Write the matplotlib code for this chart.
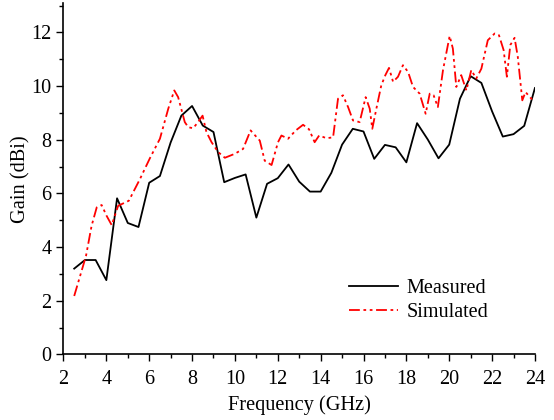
import matplotlib
matplotlib.use("Agg")
import matplotlib.pyplot as plt
from matplotlib.ticker import MultipleLocator

# measured gain, 0.5 GHz steps
freq_meas = [2.5, 3.0, 3.5, 4.0, 4.5, 5.0, 5.5, 6.0, 6.5, 7.0, 7.5, 8.0, 8.5, 9.0,
             9.5, 10.0, 10.5, 11.0, 11.5, 12.0, 12.5, 13.0, 13.5, 14.0, 14.5, 15.0,
             15.5, 16.0, 16.5, 17.0, 17.5, 18.0, 18.5, 19.0, 19.5, 20.0, 20.5, 21.0,
             21.5, 22.0, 22.5, 23.0, 23.5, 24.0]
gain_meas = [3.2, 3.52, 3.52, 2.77, 5.82, 4.9, 4.75, 6.4, 6.65, 7.9, 8.9, 9.26, 8.53, 8.29,
             6.42, 6.58, 6.71, 5.1, 6.36, 6.57, 7.08, 6.44, 6.07, 6.07, 6.77, 7.82,
             8.41, 8.31, 7.29, 7.81, 7.72, 7.16, 8.62, 8.01, 7.31, 7.82, 9.53, 10.37,
             10.12, 9.06, 8.12, 8.21, 8.52, 9.93]

# simulated gain
freq_sim = [2.5, 3.05, 3.31, 3.55, 3.78, 4.01, 4.25, 4.55, 5.05, 5.57, 6.03, 6.5, 6.89,
            7.17, 7.35, 7.66, 7.82, 8.05, 8.28, 8.49, 8.67, 8.91, 9.22, 9.53, 10.0,
            10.38, 10.73, 11.16, 11.39, 11.71, 12.01, 12.17, 12.48, 12.84, 13.18, 13.46,
            13.72, 13.93, 14.27, 14.58, 14.81, 15.04, 15.28, 15.51, 15.82, 16.1, 16.29,
            16.41, 16.6, 16.83, 17.02, 17.19, 17.38, 17.61, 17.84, 18.08, 18.31, 18.62,
            18.9, 19.09, 19.27, 19.47, 19.71, 20.02, 20.17, 20.33, 20.56, 20.8, 21.03,
            21.26, 21.5, 21.8, 22.12, 22.32, 22.54, 22.69, 22.85, 23.05, 23.2, 23.41,
            23.56, 23.9, 24.0]
gain_sim = [2.18, 3.67, 4.79, 5.48, 5.57, 5.17, 4.82, 5.54, 5.73, 6.54, 7.31, 8.04, 9.16,
            9.84, 9.59, 8.66, 8.47, 8.43, 8.66, 8.9, 8.29, 7.91, 7.54, 7.33, 7.48,
            7.66, 8.35, 7.97, 7.22, 7.06, 7.91, 8.16, 8.04, 8.35, 8.56, 8.39,
            7.91, 8.16, 8.06, 8.09, 9.53, 9.66, 9.22, 8.72, 8.66, 9.59, 9.16,
            8.41, 9.16, 10.03, 10.41, 10.68, 10.16, 10.35, 10.78, 10.53, 9.97, 9.72,
            8.97, 9.72, 9.66, 9.22, 10.6, 11.87, 11.4, 9.97, 10.41, 9.84, 10.6,
            10.28, 10.65, 11.71, 11.96, 11.9, 11.34, 10.35, 11.53, 11.8, 11.09, 9.47,
            9.78, 9.47, 9.43]

plt.rcParams['font.family'] = ['Liberation Serif', 'DejaVu Serif']

fig = plt.figure(figsize=(5.54, 4.2), dpi=100)
ax = fig.add_axes([0.1146, 0.156, 0.851, 0.837])

ax.plot(freq_meas, gain_meas, color='black', lw=1.3, label='Measured')
ax.plot(freq_sim, gain_sim, color='red', lw=1.3, dashes=(6, 2, 1.5, 2, 1.5, 2),
        label='Simulated')

ax.set_xlim(2, 24)
ax.set_ylim(0, 13.1)
ax.xaxis.set_major_locator(MultipleLocator(2))
ax.xaxis.set_minor_locator(MultipleLocator(1))
ax.yaxis.set_major_locator(MultipleLocator(2))
ax.yaxis.set_minor_locator(MultipleLocator(1))
ax.tick_params(which='major', direction='out', length=5, width=1, labelsize=14.5)
ax.tick_params(axis='x', which='major', pad=6)
ax.tick_params(which='minor', direction='out', length=3, width=1)

ax.spines['top'].set_visible(False)
ax.spines['right'].set_visible(False)
ax.spines['left'].set_linewidth(1.2)
ax.spines['bottom'].set_linewidth(1.2)

ax.set_xlabel('Frequency (GHz)', fontsize=14.7, labelpad=5)
ax.set_ylabel('Gain (dBi)', fontsize=14.7, labelpad=1)

ax.legend(loc='lower right', bbox_to_anchor=(0.94, 0.04), frameon=False, fontsize=14.5,
          handlelength=2.4, handletextpad=0.45, labelspacing=0.25)

fig.savefig('out.png', dpi=100)
